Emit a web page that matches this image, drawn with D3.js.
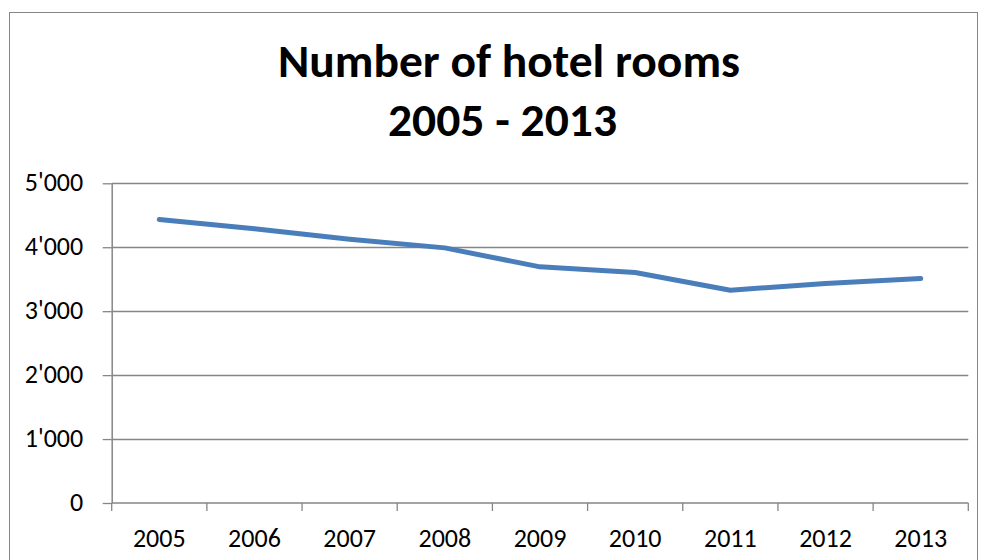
<!DOCTYPE html>
<html><head><meta charset="utf-8">
<script src="https://cdn.jsdelivr.net/npm/d3@7/dist/d3.min.js"></script>
<style>body{margin:0;background:#fff}svg{display:block}</style>
</head><body><svg id="c" width="982" height="560"></svg>
<script>
const years = ["2005","2006","2007","2008","2009","2010","2011","2012","2013"];
const rooms = [4433, 4290, 4125, 3990, 3693, 3604, 3328, 3432, 3510];
const yTicks = [0, 1000, 2000, 3000, 4000, 5000];
const titleLines = ["Number of hotel rooms", "2005 - 2013"];

(function () {
const svg = d3.select("#c");
const pL = 111.7, pR = 968.3, pT = 183.3, pB = 503;
const font = "Carlito, Calibri, Lato, 'Open Sans', sans-serif";

// outer border
svg.append("rect").attr("x", 9.5).attr("y", 12.5).attr("width", 968).attr("height", 600)
  .attr("fill", "none").attr("stroke", "#868686").attr("stroke-width", 1);

const x = d3.scaleBand().domain(years).range([pL, pR]);
const y = d3.scaleLinear().domain([0, 5000]).range([pB, pT]);

// gridlines
svg.append("g").selectAll("line").data(yTicks.filter(d => d > 0)).join("line")
  .attr("x1", pL).attr("x2", pR)
  .attr("y1", d => Math.round(y(d)) + 0.5).attr("y2", d => Math.round(y(d)) + 0.5)
  .attr("stroke", "#868686").attr("stroke-width", 1.3);

// y axis
const fmt = d => d === 0 ? "0" : d3.format(",")(d).replace(/,/g, "'");
const ya = svg.append("g").attr("transform", `translate(${pL},0)`)
  .call(d3.axisLeft(y).tickValues(yTicks).tickSize(9).tickSizeOuter(0).tickPadding(19.5).tickFormat(fmt));
ya.select(".domain").attr("stroke", "#868686").attr("stroke-width", 1.5);
ya.selectAll(".tick line").attr("stroke", "#868686").attr("stroke-width", 1.3);
ya.selectAll("text").attr("font-family", font).attr("font-size", 26).attr("fill", "#000").attr("dy", "0.29em");

// x axis with ticks at band boundaries
const xa = svg.append("g").attr("transform", `translate(0,${pB})`);
xa.append("line").attr("x1", pL).attr("x2", pR).attr("y1", 0).attr("y2", 0)
  .attr("stroke", "#868686").attr("stroke-width", 1.5);
const bounds = years.map(d => x(d)).concat([x(years[years.length - 1]) + x.bandwidth()]);
xa.selectAll("line.t").data(bounds).join("line").attr("class", "t")
  .attr("x1", d => d).attr("x2", d => d).attr("y1", 0).attr("y2", 8)
  .attr("stroke", "#868686").attr("stroke-width", 1.3);
xa.selectAll("text").data(years).join("text")
  .attr("x", d => x(d) + x.bandwidth() / 2).attr("y", 43.5)
  .attr("text-anchor", "middle").attr("font-family", font).attr("font-size", 26).attr("fill", "#000")
  .text(d => d);

// line
const line = d3.line().x((d, i) => x(years[i]) + x.bandwidth() / 2).y(d => y(d));
svg.append("path").datum(rooms).attr("d", line).attr("fill", "none")
  .attr("stroke", "#4a7ebb").attr("stroke-width", 5).attr("stroke-linecap", "round").attr("stroke-linejoin", "round");

// title
svg.append("text").attr("x", 509).attr("y", 77).attr("text-anchor", "middle")
  .attr("font-family", font).attr("font-weight", "bold").attr("font-size", 46)
  .attr("textLength", 462).attr("lengthAdjust", "spacingAndGlyphs").text(titleLines[0]);
svg.append("text").attr("x", 502.5).attr("y", 136).attr("text-anchor", "middle")
  .attr("font-family", font).attr("font-weight", "bold").attr("font-size", 46)
  .attr("textLength", 229).attr("lengthAdjust", "spacingAndGlyphs").text(titleLines[1]);
})();
</script></body></html>
